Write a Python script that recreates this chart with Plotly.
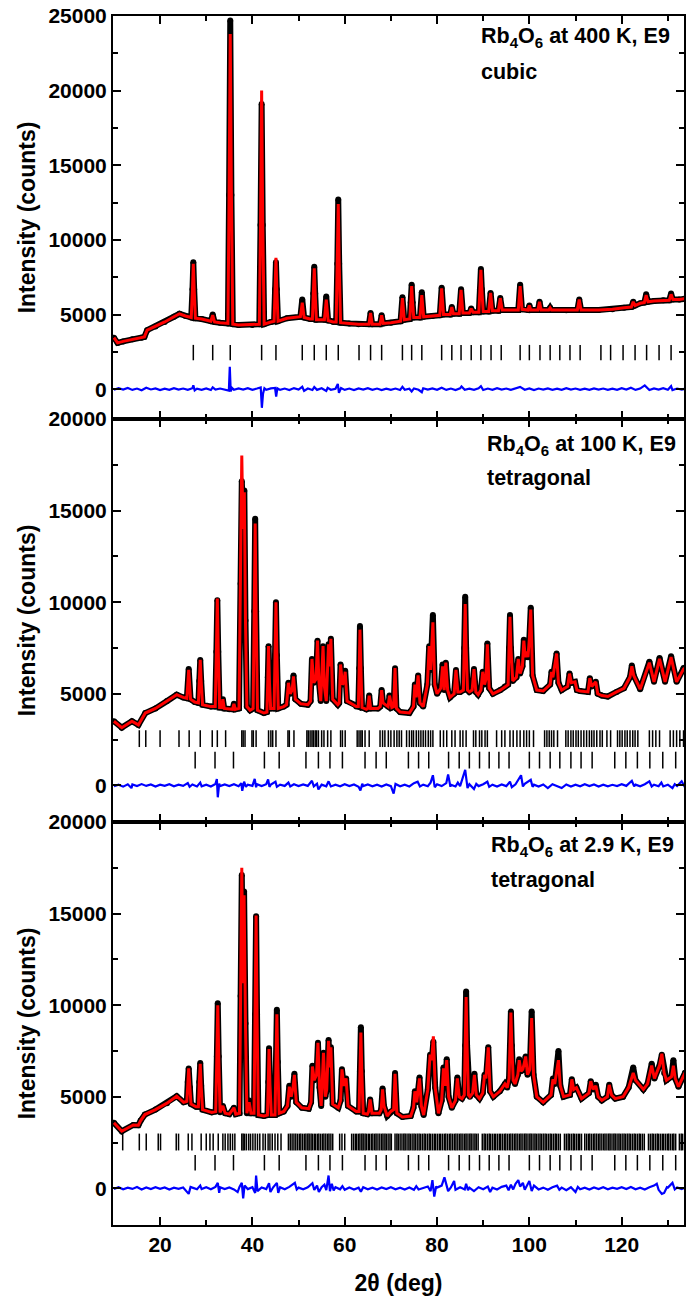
import plotly.graph_objects as go

# ---------------- data ----------------
# Panel 1: Rb4O6 at 400 K (cubic) -- (2theta, counts)
p1_calc = [
    (10.0, 3450), (10.8, 3100), (12.0, 3200), (14.0, 3350), (16.0, 3450), (16.6, 3500), (17.2, 3950),
    (19.0, 4200), (21.0, 4500), (23.0, 4850), (24.2, 5050), (25.5, 4900), (26.6, 4850),
    (26.75, 4800), (27.02, 6700), (27.2, 8400), (27.38, 6700), (27.65, 4750), (29.0, 4700),
    (31.0, 4550), (31.4, 4950), (31.8, 4500), (33.0, 4450),
    (34.7, 4400), (34.95, 13000), (35.2, 23800), (35.45, 13000), (35.75, 4350), (37.0, 4300), (40.0, 4300),
    (41.5, 4350), (41.76, 11000), (42.0, 20000), (42.24, 11000), (42.55, 4350), (44.0, 4500),
    (44.7, 4550), (44.92, 6700), (45.1, 8800), (45.28, 6700), (45.55, 4550), (47.5, 4750),
    (50.4, 4850), (50.8, 5800), (51.2, 4800), (52.5, 4700),
    (53.0, 4700), (53.2, 6400), (53.4, 8100), (53.6, 6400), (53.85, 4650),
    (55.6, 4650), (56.0, 6000), (56.4, 4600), (57.5, 4500),
    (58.15, 4500), (58.4, 8400), (58.6, 12400), (58.8, 8400), (59.1, 4450), (61.0, 4400), (63.0, 4350),
    (65.25, 4350), (65.6, 5100), (65.95, 4350), (67.65, 4350), (68.0, 4950), (68.35, 4400), (70.0, 4450),
    (72.1, 4550), (72.5, 6100), (72.9, 4650),
    (74.1, 4700), (74.3, 5800), (74.5, 6900), (74.7, 5800), (74.95, 4800),
    (76.3, 4800), (76.7, 6300), (77.1, 4850), (79.0, 4900),
    (80.6, 4950), (81.0, 6750), (81.4, 5000), (82.85, 5000), (83.2, 5500), (83.55, 5050),
    (84.8, 5050), (85.2, 6650), (85.6, 5100), (87.0, 5100), (87.4, 5400), (87.8, 5150),
    (89.05, 5150), (89.3, 6700), (89.5, 8000), (89.7, 6700), (90.0, 5200),
    (91.2, 5200), (91.6, 6450), (92.0, 5250), (93.3, 5250), (93.7, 6100), (94.1, 5300), (96.0, 5300),
    (97.6, 5300), (98.0, 6900), (98.4, 5350), (99.7, 5300), (100.0, 5600), (100.3, 5300),
    (101.85, 5300), (102.2, 5850), (102.55, 5300), (104.2, 5300), (104.5, 5450), (104.8, 5300), (108.0, 5280),
    (110.4, 5300), (110.8, 6000), (111.2, 5300), (115.0, 5300), (118.0, 5350), (120.5, 5450),
    (122.1, 5500), (122.5, 5850), (122.9, 5600), (124.0, 5750), (124.9, 5800), (125.3, 6300), (125.7, 5850),
    (127.0, 5900), (129.0, 5950), (130.3, 5950), (130.7, 6350), (131.1, 6000), (132.5, 6000), (134.5, 6100),
]
p1_obs = [
    (10.0, 3450), (10.8, 3100), (12.0, 3200), (14.0, 3350), (16.0, 3450), (16.6, 3500), (17.2, 3950),
    (19.0, 4200), (21.0, 4500), (23.0, 4850), (24.2, 5050), (25.5, 4900), (26.6, 4850),
    (26.75, 4800), (27.02, 6700), (27.2, 8500), (27.38, 6700), (27.65, 4750), (29.0, 4700),
    (31.0, 4550), (31.4, 5000), (31.8, 4500), (33.0, 4450),
    (34.7, 4400), (34.95, 13000), (35.2, 24700), (35.45, 13000), (35.75, 4350), (37.0, 4300), (40.0, 4300),
    (41.5, 4350), (41.76, 11000), (42.0, 19100), (42.24, 11000), (42.55, 4350), (44.0, 4500),
    (44.7, 4550), (44.92, 6700), (45.1, 8500), (45.28, 6700), (45.55, 4550), (47.5, 4750),
    (50.4, 4850), (50.8, 6000), (51.2, 4800), (52.5, 4700),
    (53.0, 4700), (53.2, 6400), (53.4, 8200), (53.6, 6400), (53.85, 4650),
    (55.6, 4650), (56.0, 6200), (56.4, 4600), (57.5, 4500),
    (58.15, 4500), (58.4, 8400), (58.6, 12700), (58.8, 8400), (59.1, 4450), (61.0, 4400), (63.0, 4350),
    (65.25, 4350), (65.6, 5100), (65.95, 4350), (67.65, 4350), (68.0, 4950), (68.35, 4400), (70.0, 4450),
    (72.1, 4550), (72.5, 6150), (72.9, 4650),
    (74.1, 4700), (74.3, 5800), (74.5, 7000), (74.7, 5800), (74.95, 4800),
    (76.3, 4800), (76.7, 6500), (77.1, 4850), (79.0, 4900),
    (80.6, 4950), (81.0, 6800), (81.4, 5000), (82.85, 5000), (83.2, 5500), (83.55, 5050),
    (84.8, 5050), (85.2, 6700), (85.6, 5100), (87.0, 5100), (87.4, 5400), (87.8, 5150),
    (89.05, 5150), (89.3, 6700), (89.5, 8050), (89.7, 6700), (90.0, 5200),
    (91.2, 5200), (91.6, 6450), (92.0, 5250), (93.3, 5250), (93.7, 6100), (94.1, 5300), (96.0, 5300),
    (97.6, 5300), (98.0, 7000), (98.4, 5350), (99.7, 5300), (100.0, 5600), (100.3, 5300),
    (101.85, 5300), (102.2, 5850), (102.55, 5300), (104.2, 5300), (104.5, 5450), (104.8, 5300), (108.0, 5280),
    (110.4, 5300), (110.8, 6000), (111.2, 5300), (115.0, 5300), (118.0, 5350), (120.5, 5450),
    (122.1, 5500), (122.5, 5850), (122.9, 5600), (124.0, 5750), (124.9, 5800), (125.3, 6350), (125.7, 5850),
    (127.0, 5900), (129.0, 5950), (130.3, 5950), (130.7, 6400), (131.1, 6000), (132.5, 6000), (134.5, 6100),
]
p1_diff = [
    (10, -40), (11, 60), (12, -30), (13, 80), (14, -50), (15, 40), (16, -70), (17, 90), (18, -20), (19, 50),
    (20, -60), (21, 30), (22, -40), (23, 70), (24, -30), (25, 40), (26, -50), (27, 60), (27.2, 250), (27.5, -80),
    (28, 30), (29, -40), (30, 50), (31, -60), (31.4, 120), (32, -30), (33, 40), (34, -50), (34.9, -100),
    (35.1, 1500), (35.3, -150), (35.6, 80), (36, -40), (37, 50), (38, -30), (39, 60), (40, -50), (41, 40),
    (41.8, 120), (42.05, -1250), (42.3, -300), (42.6, 60), (43, -40), (44, 50), (44.9, 80), (45.15, -500),
    (45.4, 60), (46, -50), (47, 40), (48, -60), (49, 70), (50, -30), (50.8, 160), (51.2, -120), (52, 40),
    (53, -60), (53.4, 140), (54, -50), (55, 60), (56, -120), (56.3, 90), (57, -40), (58, 30), (58.5, 350),
    (58.75, -250), (59.2, 70), (60, -50), (61, 40), (62, -60), (63, 50), (64, -30), (65, 60), (66, -50),
    (67, 40), (68, -60), (69, 30), (70, -50), (71, 40), (72, -60), (72.5, 150), (73, -40), (74, 30),
    (74.5, -150), (75, 50), (76, -40), (76.7, -200), (77, 60), (78, -30), (79, 50), (80, -40), (81, 100),
    (82, -50), (83, 40), (84, -60), (85, 50), (85.3, 180), (86, -40), (87, 30), (88, -50), (89, 60),
    (89.5, 200), (90, -60), (91, 40), (92, -50), (93, 60), (94, -30), (95, 40), (96, -50), (97, 30),
    (98, 150), (99, -40), (100, 50), (101, -60), (102, 40), (103, -30), (104, 50), (105, -40), (106, 30),
    (107, -50), (108, 60), (109, -30), (110, 40), (111, -50), (112, 30), (113, -40), (114, 50), (115, -30),
    (116, 40), (117, -50), (118, 30), (119, -40), (120, 60), (121, -30), (122, 100), (123, -50), (124, 40),
    (125, 250), (126, -60), (127, 50), (128, -30), (129, 60), (130, -40), (130.7, 200), (131, -60),
    (132, 40), (133, -30), (134, 50),
]
p1_bragg = [27.2, 31.4, 35.2, 42.0, 45.1, 50.8, 53.4, 56.0, 58.6, 63.1, 65.6, 68.0, 72.5, 74.5, 76.7,
            81.0, 83.2, 85.2, 87.4, 89.5, 91.7, 93.9, 98.0, 100.0, 102.3, 104.5, 106.6, 108.8, 111.0,
            115.5, 117.6, 120.3, 122.9, 125.4, 128.1, 130.7]

# Panel 2: Rb4O6 at 100 K (tetragonal)
p2_calc = [
    (10.0, 3500), (11.7, 3150), (13.9, 3500), (15.3, 3300), (16.8, 3950), (19.0, 4200), (21.5, 4600),
    (23.6, 4950), (25.0, 4800),
    (25.8, 4750), (26.2, 6300), (26.6, 4700), (27.5, 4550),
    (28.3, 4500), (28.5, 5700), (28.7, 6850), (28.9, 5700), (29.2, 4400), (31.0, 4300),
    (31.95, 4300), (32.2, 7300), (32.4, 10200), (32.6, 7300), (32.9, 4250),
    (33.3, 4250), (33.6, 4700), (33.9, 4200), (35.0, 4150), (35.7, 4150), (36.0, 4450), (36.3, 4150), (37.1, 4200),
    (37.45, 11000), (37.7, 18000), (37.95, 14000), (38.25, 16000), (38.5, 9000), (38.8, 4300), (39.5, 4100),
    (40.15, 4200), (40.4, 9500), (40.6, 14300), (40.8, 9500), (41.1, 4100), (42.5, 3950),
    (43.15, 4000), (43.35, 5900), (43.5, 7600), (43.7, 5600), (43.95, 4200),
    (44.7, 4200), (44.9, 7100), (45.1, 10000), (45.3, 7100), (45.6, 4200), (46.8, 4300),
    (47.4, 4400), (47.8, 5600), (48.2, 5000), (48.6, 5200), (48.9, 5950), (49.3, 4700), (50.5, 4450), (52.0, 4400),
    (52.6, 4600), (52.9, 6900), (53.3, 5600), (53.8, 5800), (54.1, 7900), (54.4, 5700), (54.8, 4600),
    (55.3, 7600), (55.6, 5400),
    (56.0, 4600), (56.5, 7700), (56.75, 6500), (57.0, 8000), (57.4, 4700), (58.5, 4400),
    (58.8, 4500), (59.1, 6600), (59.5, 5500), (59.8, 5600), (60.1, 6200), (60.5, 4600), (62.5, 4300),
    (62.95, 4300), (63.15, 6400), (63.3, 8500), (63.5, 6400), (63.75, 4250), (64.7, 4150),
    (65.0, 4200), (65.3, 4900), (65.6, 4200), (67.2, 4200), (67.7, 4300), (68.0, 5200), (68.3, 4500),
    (69.4, 4300), (69.7, 4900), (70.2, 4250), (70.6, 4300), (70.9, 6400), (71.2, 4200), (72.0, 4000), (74.0, 3950),
    (74.9, 4300), (75.2, 5500), (75.5, 4800), (75.9, 6000), (76.3, 4500), (77.0, 4300),
    (77.9, 5500), (78.3, 7600), (78.6, 6300), (79.1, 8900), (79.5, 5500), (80.0, 5000),
    (80.8, 5300), (81.2, 6500), (81.55, 5200), (81.9, 6700), (82.3, 5200), (82.8, 4800),
    (83.7, 5000), (84.1, 6300), (84.5, 5100), (85.0, 5100),
    (85.7, 5200), (85.9, 7500), (86.1, 9900), (86.3, 7500), (86.6, 5200), (87.0, 5100),
    (87.6, 5200), (88.0, 6350), (88.4, 5100), (88.9, 4950), (89.5, 5200), (89.9, 6200), (90.3, 5500),
    (90.6, 5800), (90.9, 7700), (91.3, 5300),
    (92.1, 5000), (93.7, 5200), (94.7, 5400),
    (95.4, 5500), (95.6, 7500), (95.8, 9200), (96.0, 7500), (96.4, 5700),
    (97.2, 5900), (97.6, 6900), (98.0, 6100), (98.5, 6500), (98.8, 7900), (99.1, 7000), (99.4, 7300), (99.7, 7000),
    (100.0, 8000), (100.3, 9600), (100.7, 6000), (101.6, 5200), (103.0, 5150),
    (104.5, 5500), (104.8, 6200), (105.1, 5900), (105.9, 7200), (106.3, 5600), (107.0, 5200),
    (108.3, 5400), (108.7, 6100), (109.1, 5600), (109.9, 5650), (110.3, 5200), (111.0, 5150),
    (112.7, 5100), (113.1, 5850), (113.5, 5400), (114.4, 5650), (114.8, 5000), (115.7, 4900), (117.0, 4850),
    (118.9, 5100), (120.5, 5300),
    (121.8, 5900), (122.2, 6500), (122.6, 6000), (124.0, 5250), (126.0, 6700), (127.0, 5650), (128.2, 6900),
    (129.4, 5650), (130.7, 7000), (131.9, 5650), (133.4, 6350), (134.5, 6500),
]
p2_obs = [
    (10.0, 3500), (11.7, 3150), (13.9, 3500), (15.3, 3300), (16.8, 3950), (19.0, 4200), (21.5, 4600),
    (23.6, 4950), (25.0, 4800),
    (25.8, 4750), (26.2, 6350), (26.6, 4700), (27.5, 4550),
    (28.3, 4500), (28.5, 5700), (28.7, 6850), (28.9, 5700), (29.2, 4400), (31.0, 4300),
    (31.95, 4300), (32.2, 7300), (32.4, 10100), (32.6, 7300), (32.9, 4250),
    (33.3, 4250), (33.6, 4700), (33.9, 4200), (35.0, 4150), (35.7, 4150), (36.0, 4450), (36.3, 4150), (37.1, 4200),
    (37.45, 11000), (37.7, 16600), (37.95, 15000), (38.25, 16100), (38.5, 9000), (38.8, 4300), (39.5, 4100),
    (40.15, 4200), (40.4, 9500), (40.6, 14550), (40.8, 9500), (41.1, 4100), (42.5, 3950),
    (43.15, 4000), (43.35, 5900), (43.5, 7600), (43.7, 5600), (43.95, 4200),
    (44.7, 4200), (44.9, 7100), (45.1, 10000), (45.3, 7100), (45.6, 4200), (46.8, 4300),
    (47.4, 4400), (47.8, 5600), (48.2, 5000), (48.6, 5200), (48.9, 6000), (49.3, 4700), (50.5, 4450), (52.0, 4400),
    (52.6, 4600), (52.9, 6900), (53.3, 5600), (53.8, 5800), (54.1, 7900), (54.4, 5700), (54.8, 4600),
    (55.3, 7600), (55.6, 5400),
    (56.0, 4600), (56.5, 7700), (56.75, 6500), (57.0, 8000), (57.4, 4700), (58.5, 4400),
    (58.8, 4500), (59.1, 6600), (59.5, 5500), (59.8, 5600), (60.1, 6250), (60.5, 4600), (62.5, 4300),
    (62.95, 4300), (63.15, 6400), (63.3, 8700), (63.5, 6400), (63.75, 4250), (64.7, 4150),
    (65.0, 4200), (65.3, 4900), (65.6, 4200), (67.2, 4200), (67.7, 4300), (68.0, 5200), (68.3, 4500),
    (69.4, 4300), (69.7, 4900), (70.2, 4250), (70.6, 4300), (70.9, 6400), (71.2, 4200), (72.0, 4000), (74.0, 3950),
    (74.9, 4300), (75.2, 5500), (75.5, 4800), (75.9, 6000), (76.3, 4500), (77.0, 4300),
    (77.9, 5500), (78.3, 7600), (78.6, 6300), (79.1, 9300), (79.5, 5500), (80.0, 5000),
    (80.8, 5300), (81.2, 6600), (81.55, 5200), (81.9, 6700), (82.3, 5200), (82.8, 4800),
    (83.7, 5000), (84.1, 6300), (84.5, 5100), (85.0, 5100),
    (85.7, 5200), (85.9, 7500), (86.1, 10300), (86.3, 7500), (86.6, 5200), (87.0, 5100),
    (87.6, 5200), (88.0, 6350), (88.4, 5100), (88.9, 4950), (89.5, 5200), (89.9, 6200), (90.3, 5500),
    (90.6, 5800), (90.9, 7750), (91.3, 5300),
    (92.1, 5000), (93.7, 5200), (94.7, 5400),
    (95.4, 5500), (95.6, 7500), (95.8, 9300), (96.0, 7500), (96.4, 5700),
    (97.2, 5900), (97.6, 6900), (98.0, 6100), (98.5, 6500), (98.8, 7950), (99.1, 7000), (99.4, 7400), (99.7, 7000),
    (100.0, 8000), (100.3, 9700), (100.7, 6000), (101.6, 5200), (103.0, 5150),
    (104.5, 5500), (104.8, 6200), (105.1, 5900), (105.9, 7200), (106.3, 5600), (107.0, 5200),
    (108.3, 5400), (108.7, 6100), (109.1, 5600), (109.9, 5650), (110.3, 5200), (111.0, 5150),
    (112.7, 5100), (113.1, 5850), (113.5, 5400), (114.4, 5650), (114.8, 5000), (115.7, 4900), (117.0, 4850),
    (118.9, 5100), (120.5, 5300),
    (121.8, 5900), (122.2, 6550), (122.6, 6000), (124.0, 5250), (126.0, 6750), (127.0, 5650), (128.2, 6950),
    (129.4, 5650), (130.7, 7050), (131.9, 5650), (133.4, 6400), (134.5, 6500),
]
p2_diff = [
    (10, -50), (11, 40), (12, -70), (13, 60), (13.8, -150), (14, 50), (15, -40), (16, 70), (17, -30), (18, 50),
    (19, -60), (20, 40), (21, -30), (22, 60), (23, -50), (24, 40), (25, -30), (26, 120), (26.4, -80), (27, 50),
    (28, -60), (28.7, 150), (29, -50), (30, 40), (31, -60), (32, 80), (32.3, 350), (32.5, -650), (32.8, 100),
    (33, -40), (34, 50), (35, -40), (36, 60), (37, -50), (37.6, 120), (37.8, -300), (38.2, 200), (38.6, -80),
    (39, 40), (40, -30), (40.5, 350), (40.8, -100), (41, 60), (42, -40), (43, 60), (43.4, 320), (43.7, -80),
    (44, 50), (45, 200), (45.3, -80), (46, 40), (47, -30), (47.8, 150), (48.2, -60), (49, 60), (50, -40),
    (51, 50), (52, -30), (52.9, 250), (53.3, -60), (54, 90), (54.3, -220), (55, 40), (56, -50), (56.5, 220),
    (57, -60), (58, 40), (59, -50), (60, 60), (61, -40), (62, 50), (63, -80), (63.4, -280), (63.8, 90),
    (64, -40), (65, 50), (66, -50), (67, 40), (68, -60), (69, 50), (70, -40), (70.6, -450), (71, 80),
    (72, -50), (73, 40), (74, -60), (75, 120), (75.8, 200), (76.3, -60), (77, 40), (78, -50), (78.6, 150),
    (79.1, 550), (79.5, -100), (80, 60), (81, -40), (82, 120), (82.4, 600), (82.9, -80), (83, 40), (84, -60),
    (84.5, 150), (85, -40), (86.1, 850), (86.6, -150), (87, 60), (88, -200), (88.5, 80), (89, -40), (90, 60),
    (90.9, 200), (91.3, -80), (92, 40), (93, -60), (94, 50), (95, -40), (95.8, 200), (96.2, -100), (97, 60),
    (98.2, 550), (98.6, -60), (99, 80), (100.3, 300), (100.7, -80), (101, 40), (102, -60), (103, 50),
    (104, -150), (105, 60), (106, -40), (107, -150), (108, 50), (109, -60), (110, 40), (111, -50), (112, 60),
    (113, -40), (114, 50), (115, -60), (116, 40), (117, -50), (118, 30), (119, -40), (120, 60), (121, -30),
    (122.2, 250), (122.7, -60), (123, 40), (124, -50), (125, 60), (126, 220), (126.5, -60), (127, 40),
    (128, -50), (128.6, 150), (129, -60), (130, 40), (131, -150), (131.5, 60), (132, -40), (133, 220),
    (133.6, -50), (134.5, 60),
]
p2_bragg = [15.5, 16.9, 20.0, 24.1, 26.3, 28.7, 31.3, 32.4, 34.2, 37.7, 38.0, 38.4, 39.9, 40.2, 40.8,
            43.5, 44.0, 44.4, 45.1, 47.7, 48.0, 49.0, 51.8, 52.1, 52.5, 52.9, 53.2, 53.6, 53.9, 54.3,
            55.0, 55.5, 56.3, 57.0, 59.1, 59.5, 60.1, 62.7, 63.1, 63.5, 63.8, 64.4, 65.3,
            67.65, 68.2, 68.7, 69.45, 70.0, 70.7, 71.3, 71.8, 72.3,
            73.4, 74.0, 74.5, 74.9, 75.5, 76.0, 76.5, 77.0, 77.5, 78.1, 78.6, 79.1,
            80.7, 81.4, 82.1, 83.2, 83.9, 85.0, 85.6, 86.3,
            87.9, 88.4, 89.2, 89.7, 90.4, 90.9,
            92.9, 94.0, 94.7, 95.8, 96.5, 97.3, 98.0, 98.8, 99.4, 100.0, 100.9,
            103.3, 103.8, 104.3, 104.8, 105.3, 106.1,
            107.9, 108.4, 109.0, 109.5, 110.1, 110.6, 111.2, 111.8, 112.4, 113.0, 113.5, 114.0, 114.6,
            115.3, 115.8, 116.8, 117.6,
            119.1, 119.6, 120.1, 120.7, 121.2, 121.8, 122.4, 122.9, 123.5,
            126.0, 126.7, 127.4, 128.2,
            130.5, 131.2, 131.9, 132.6, 133.4]
second_phase_bragg = [27.6, 31.9, 35.9, 42.6, 45.8, 51.6, 54.3, 56.8, 59.5, 64.4, 66.8, 69.0, 73.8, 76.0,
                      78.2, 82.5, 84.8, 87.0, 89.2, 91.3, 93.4, 95.6, 100.0, 102.2, 104.5, 106.6, 109.0,
                      111.2, 113.6, 118.5, 120.9, 123.4, 126.1, 128.9, 131.7]

# Panel 3: Rb4O6 at 2.9 K (tetragonal)
p3_calc = [
    (10.0, 3580), (11.7, 3120), (14.2, 3460), (15.3, 3450), (15.8, 3700), (16.7, 4030), (19.0, 4300),
    (21.5, 4650), (23.6, 5030), (25.1, 4700),
    (25.8, 4750), (26.0, 5800), (26.2, 6550), (26.45, 5500), (26.7, 4600), (27.8, 4450),
    (28.3, 4450), (28.5, 5800), (28.7, 6800), (28.9, 5600), (29.2, 4300), (31.2, 4150),
    (32.05, 4200), (32.3, 7200), (32.5, 10000), (32.7, 7200), (33.0, 4150),
    (33.6, 4500), (34.1, 4100), (35.0, 4050), (36.0, 4400), (36.4, 4050), (37.2, 4100),
    (37.45, 10500), (37.7, 17500), (37.95, 11200), (38.2, 16000), (38.5, 9000), (38.8, 4100), (39.3, 4700), (39.7, 4100),
    (40.35, 4100), (40.6, 9500), (40.8, 14900), (41.0, 9500), (41.3, 4000), (42.5, 3950),
    (43.25, 4000), (43.45, 5800), (43.6, 7600), (43.8, 5700), (44.1, 4000),
    (44.9, 4000), (45.1, 6900), (45.3, 9500), (45.5, 6900), (45.8, 4100), (46.8, 4200),
    (47.6, 4500), (48.0, 5550), (48.4, 5000), (48.8, 5500), (49.1, 6200), (49.5, 4700), (50.7, 4400), (52.2, 4350),
    (52.7, 4700), (53.0, 6650), (53.4, 5900), (53.9, 6200), (54.2, 7950), (54.55, 5500), (54.9, 4500),
    (55.4, 7400), (55.8, 5000),
    (56.1, 5400), (56.5, 8050), (56.75, 6600), (57.0, 7700), (57.4, 4600), (58.6, 4400),
    (59.1, 4800), (59.4, 6500), (59.8, 5600), (60.3, 6000), (60.7, 4500), (62.5, 4200),
    (63.1, 4200), (63.3, 6400), (63.5, 8500), (63.7, 6400), (64.0, 4100), (64.9, 4050),
    (65.2, 4200), (65.5, 4850), (65.9, 4100), (67.5, 4100), (67.9, 4300), (68.2, 5400), (68.5, 4500),
    (69.2, 3950), (70.0, 4200),
    (70.6, 4300), (70.9, 6250), (71.3, 4100), (72.5, 3900), (74.3, 3950),
    (74.9, 4400), (75.2, 5300), (75.6, 4700), (76.2, 6000), (76.6, 4500), (77.1, 4000),
    (78.0, 5400), (78.5, 7300), (78.85, 7000), (79.2, 8300), (79.6, 5500), (80.3, 4100),
    (81.0, 4800), (81.4, 6550), (81.75, 5600), (82.1, 7000), (82.5, 5000), (83.2, 4400),
    (84.0, 4800), (84.4, 6000), (84.8, 5000), (85.4, 4900),
    (85.9, 5100), (86.1, 7800), (86.3, 10450), (86.5, 7800), (86.8, 5100), (87.1, 5000),
    (87.7, 5200), (88.1, 6200), (88.5, 5100), (89.2, 4900), (89.9, 5200), (90.3, 6200), (90.6, 6000),
    (91.1, 7700), (91.5, 5300),
    (92.2, 5000), (93.6, 5300), (94.7, 5700), (95.2, 5500),
    (95.6, 6000), (95.8, 7800), (96.0, 9600), (96.2, 7800), (96.5, 5900), (96.9, 5700),
    (97.5, 6200), (97.8, 7000), (98.2, 6400), (98.6, 6500), (99.2, 7200), (99.6, 6200),
    (100.1, 6500), (100.5, 9300), (100.9, 6200), (101.6, 5000), (103.0, 4700),
    (104.7, 5100), (105.1, 5950), (105.5, 5700), (106.3, 7000), (106.7, 5600), (107.4, 5000),
    (108.8, 5100), (109.2, 5950), (109.6, 5400), (110.2, 5500), (111.3, 4900),
    (112.9, 5200), (113.3, 5850), (113.8, 5400), (114.4, 5600), (114.9, 5000), (115.7, 4800),
    (116.9, 5000), (117.3, 5650), (117.8, 5100), (118.6, 4900), (120.3, 5000), (121.5, 5500),
    (122.5, 6300), (123.0, 5900), (124.7, 5400), (125.6, 5700), (126.5, 6700), (127.1, 6000),
    (128.2, 6700), (128.7, 7350), (129.2, 6300), (129.7, 5900), (130.8, 6100), (131.2, 6700), (131.6, 6000),
    (132.3, 5550), (133.7, 6300), (134.5, 6350),
]
p3_obs = [
    (10.0, 3580), (11.7, 3120), (14.2, 3460), (15.3, 3450), (15.8, 3700), (16.7, 4030), (19.0, 4300),
    (21.5, 4650), (23.6, 5030), (25.1, 4700),
    (25.8, 4750), (26.0, 5800), (26.2, 6550), (26.45, 5500), (26.7, 4600), (27.8, 4450),
    (28.3, 4450), (28.5, 5800), (28.7, 6850), (28.9, 5600), (29.2, 4300), (31.2, 4150),
    (32.05, 4200), (32.3, 7200), (32.5, 10100), (32.7, 7200), (33.0, 4150),
    (33.6, 4500), (34.1, 4100), (35.0, 4050), (36.0, 4400), (36.4, 4050), (37.2, 4100),
    (37.45, 10500), (37.7, 17100), (37.95, 11200), (38.2, 16200), (38.5, 9000), (38.8, 4100), (39.3, 4800), (39.7, 4100),
    (40.35, 4100), (40.6, 9500), (40.8, 14850), (41.0, 9500), (41.3, 4000), (42.5, 3950),
    (43.25, 4000), (43.45, 5800), (43.6, 7650), (43.8, 5700), (44.1, 4000),
    (44.9, 4000), (45.1, 6900), (45.3, 9750), (45.5, 6900), (45.8, 4100), (46.8, 4200),
    (47.6, 4500), (48.0, 5600), (48.4, 5000), (48.8, 5500), (49.1, 6250), (49.5, 4700), (50.7, 4400), (52.2, 4350),
    (52.7, 4700), (53.0, 6700), (53.4, 5900), (53.9, 6200), (54.2, 7950), (54.55, 5500), (54.9, 4500),
    (55.4, 7400), (55.8, 5000),
    (56.1, 5400), (56.5, 8100), (56.75, 6600), (57.0, 7700), (57.4, 4600), (58.6, 4400),
    (59.1, 4800), (59.4, 6500), (59.8, 5600), (60.3, 6000), (60.7, 4500), (62.5, 4200),
    (63.1, 4200), (63.3, 6400), (63.5, 8800), (63.7, 6400), (64.0, 4100), (64.9, 4050),
    (65.2, 4200), (65.5, 4850), (65.9, 4100), (67.5, 4100), (67.9, 4300), (68.2, 5450), (68.5, 4500),
    (69.2, 3950), (70.0, 4200),
    (70.6, 4300), (70.9, 6300), (71.3, 4100), (72.5, 3900), (74.3, 3950),
    (74.9, 4400), (75.2, 5300), (75.6, 4700), (76.2, 6050), (76.6, 4500), (77.1, 4000),
    (78.0, 5400), (78.5, 7300), (78.85, 7000), (79.2, 8000), (79.6, 5500), (80.3, 4100),
    (81.0, 4800), (81.4, 6600), (81.75, 5600), (82.1, 7050), (82.5, 5000), (83.2, 4400),
    (84.0, 4800), (84.4, 6050), (84.8, 5000), (85.4, 4900),
    (85.9, 5100), (86.1, 7800), (86.3, 10750), (86.5, 7800), (86.8, 5100), (87.1, 5000),
    (87.7, 5200), (88.1, 6250), (88.5, 5100), (89.2, 4900), (89.9, 5200), (90.3, 6200), (90.6, 6000),
    (91.1, 7700), (91.5, 5300),
    (92.2, 5000), (93.6, 5300), (94.7, 5700), (95.2, 5500),
    (95.6, 6000), (95.8, 7800), (96.0, 9650), (96.2, 7800), (96.5, 5900), (96.9, 5700),
    (97.5, 6200), (97.8, 7050), (98.2, 6400), (98.6, 6500), (99.2, 7200), (99.6, 6200),
    (100.1, 6500), (100.5, 9650), (100.9, 6200), (101.6, 5000), (103.0, 4700),
    (104.7, 5100), (105.1, 6000), (105.5, 5700), (106.3, 7500), (106.7, 5600), (107.4, 5000),
    (108.8, 5100), (109.2, 5950), (109.6, 5400), (110.2, 5500), (111.3, 4900),
    (112.9, 5200), (113.3, 5850), (113.8, 5400), (114.4, 5650), (114.9, 5000), (115.7, 4800),
    (116.9, 5000), (117.3, 5650), (117.8, 5100), (118.6, 4900), (120.3, 5000), (121.5, 5500),
    (122.5, 6600), (123.0, 5900), (124.7, 5400), (125.6, 5700), (126.5, 6800), (127.1, 6000),
    (128.2, 6700), (128.7, 7300), (129.2, 6300), (129.7, 5900), (130.8, 6100), (131.2, 7000), (131.6, 6000),
    (132.3, 5550), (133.7, 6300), (134.5, 6350),
]
p3_diff = [
    (10, -40), (11, 60), (12, -50), (13, 40), (14, -30), (15, 70), (16, -60), (17, 50), (18, -40), (19, 60),
    (20, -30), (21, 50), (22, -60), (23, 40), (24, -30), (25, 50), (26.2, -300), (26.6, 80), (27, 40),
    (28, -50), (28.7, 150), (29, -40), (30, 60), (31, -50), (32, 80), (32.5, 300), (32.8, -250), (33, 60),
    (34, -40), (35, 50), (36, -60), (36.8, -200), (37.2, 80), (37.7, 300), (38.0, -550), (38.3, 150),
    (39, -40), (40, 60), (40.6, -250), (40.8, 700), (41.1, -150), (42, 50), (43, -40), (43.6, 280),
    (43.9, -200), (44.5, 60), (45.3, 300), (45.6, -250), (46, 60), (47, -50), (48, 80), (49.2, 300),
    (49.6, -60), (50, 40), (51, -50), (52, 60), (53, 280), (53.4, -80), (54, 150), (54.4, -200), (55, 60),
    (55.6, 200), (56, -100), (56.5, 700), (56.8, -150), (57.2, 250), (57.6, -120), (58, 60), (59, -50),
    (59.5, 120), (60, -80), (61, 50), (62, -60), (63, 40), (63.5, -180), (64, 60), (65, -50), (66, 40),
    (67, -60), (68, 50), (69, -40), (70, 60), (71, -50), (72, 40), (73, -60), (74, 50), (75, -80),
    (75.5, 120), (76, -60), (77, 40), (78, 100), (78.6, -150), (79, 450), (79.4, -450), (79.8, 100),
    (80, 40), (81, 150), (81.6, 600), (82, 250), (82.4, -150), (83, 50), (83.7, 400), (84, -80), (85, 60),
    (86, -60), (86.3, 250), (86.7, -100), (87, 40), (88, -150), (89, 60), (90, -50), (91, 100), (91.5, -200),
    (92, 40), (93, -60), (94, 80), (95, 150), (95.5, -100), (96, 200), (96.5, -60), (97, 250), (97.6, 450),
    (98, 100), (98.6, 300), (99, -80), (99.5, 200), (100, 400), (100.5, -150), (101, 150), (102, -60),
    (103, 40), (104, -80), (105, 60), (106, 150), (106.5, -80), (107, 40), (108, -100), (109, 60),
    (110, -200), (110.5, 80), (111, -50), (112, 40), (113, -60), (114, 50), (115, -40), (116, 60),
    (117, -50), (118, 40), (119, -30), (120, 60), (121, -40), (122, 80), (123, -50), (124, 40), (125, -60),
    (126, 60), (127, 150), (127.6, 250), (128, -80), (128.7, -300), (129.2, -250), (129.8, 60), (130, 40),
    (131, 300), (131.5, -60), (132, 50), (133, -40), (134, 60),
]
p3_bragg = [11.9, 15.5, 17.0, 19.6, 20.1, 23.5, 24.0, 26.1, 26.9, 28.9, 30.0, 30.8, 31.5, 32.6, 33.6,
            34.1, 34.7, 35.2, 35.7, 36.2,
            37.7, 38.0, 38.3, 38.7, 39.2, 39.6, 40.1, 40.6, 41.1, 41.6, 42.3, 42.8, 43.4, 43.8, 44.3,
            44.9, 45.5, 46.2,
            47.8, 48.2, 48.6, 49.0, 49.4, 49.8, 50.2, 50.5, 50.9, 51.3, 51.6, 52.0, 52.3, 52.7, 53.0,
            53.4, 53.7, 54.1, 54.4, 54.8, 55.2, 55.5, 55.9, 56.3, 56.6, 57.0, 57.4,
            58.9, 59.4, 60.0,
            61.5, 61.9, 62.3, 62.6, 63.0, 63.3, 63.7, 64.0, 64.4, 64.7, 65.1, 65.4, 65.8, 66.1, 66.5,
            66.8, 67.2, 67.6, 68.0, 68.3, 68.7, 69.0, 69.4, 69.8, 70.1,
            70.9, 71.3, 71.6, 72.0, 72.4, 72.8, 73.1, 73.5, 73.9, 74.2, 74.6, 75.0, 75.3, 75.7, 76.1,
            76.4, 76.8, 77.2, 77.5, 77.9, 78.3, 78.6, 79.0, 79.4, 79.7, 80.1, 80.5, 80.8, 81.2, 81.6,
            81.9, 82.3, 82.7, 83.0, 83.4, 83.8, 84.1, 84.5, 84.9, 85.2, 85.6, 86.0, 86.3, 86.7, 87.1,
            87.4, 87.8, 88.2, 88.5, 88.9,
            89.8, 90.2, 90.5, 90.9, 91.3, 91.6, 92.0, 92.4, 92.7, 93.1, 93.5, 93.8, 94.2, 94.6, 94.9,
            95.3, 95.7, 96.0, 96.4, 96.8, 97.1, 97.5, 97.9, 98.2, 98.6, 99.0, 99.3, 99.7, 100.1, 100.4,
            100.8, 101.2, 101.5, 101.9, 102.3, 102.6, 103.0, 103.4, 103.7, 104.1, 104.5, 104.8, 105.2,
            105.6, 105.9, 106.3, 106.7,
            107.6, 108.0, 108.4, 108.7, 109.1, 109.5, 109.8, 110.2, 110.6, 110.9, 111.3,
            112.0, 112.4, 112.8, 113.1, 113.5, 113.9, 114.2, 114.6, 115.0, 115.3, 115.7, 116.1, 116.4,
            116.8, 117.2, 117.5, 117.9, 118.3, 118.6, 119.0, 119.4, 119.7, 120.1, 120.5, 120.8, 121.2,
            121.6, 121.9, 122.3, 122.7, 123.0, 123.4, 123.8, 124.1, 124.5, 124.9,
            125.8, 126.2, 126.6, 126.9, 127.3, 127.7, 128.0, 128.4, 128.8, 129.1, 129.5, 129.9, 130.2,
            130.6, 131.0, 131.3, 131.7,
            132.5, 132.9, 133.2]

panel_labels = [
    ("Rb<sub>4</sub>O<sub>6</sub> at 400 K, E9", "cubic"),
    ("Rb<sub>4</sub>O<sub>6</sub> at 100 K, E9", "tetragonal"),
    ("Rb<sub>4</sub>O<sub>6</sub> at 2.9 K, E9", "tetragonal"),
]
y_ticks_p1 = [0, 5000, 10000, 15000, 20000, 25000]
y_ticks_p23 = [0, 5000, 10000, 15000, 20000]
x_ticks = [20, 40, 60, 80, 100, 120]

# ---------------- figure ----------------
FONT = "Arial, 'Liberation Sans', sans-serif"


def split(pts):
    return [p[0] for p in pts], [p[1] for p in pts]


fig = go.Figure()

panels = [
    (p1_obs, p1_calc, p1_diff, [(p1_bragg, 2450, 11)], "x3", "y3"),
    (p2_obs, p2_calc, p2_diff, [(p2_bragg, 2550, 12), (second_phase_bragg, 1380, 12)], "x2", "y2"),
    (p3_obs, p3_calc, p3_diff, [(p3_bragg, 2530, 12), (second_phase_bragg, 1400, 11)], "x", "y"),
]

for obs, calc, diff, braggs, xa, ya in panels:
    ox, oy = split(obs)
    cx, cy = split(calc)
    dx, dy = split(diff)
    fig.add_trace(go.Scatter(x=ox, y=oy, mode="lines+markers",
                             line=dict(color="black", width=6),
                             marker=dict(color="black", size=6),
                             xaxis=xa, yaxis=ya, showlegend=False, hoverinfo="skip"))
    fig.add_trace(go.Scatter(x=cx, y=cy, mode="lines",
                             line=dict(color="#ff0000", width=3),
                             xaxis=xa, yaxis=ya, showlegend=False, hoverinfo="skip"))
    fig.add_trace(go.Scatter(x=dx, y=dy, mode="lines",
                             line=dict(color="#0000ff", width=2.2),
                             xaxis=xa, yaxis=ya, showlegend=False, hoverinfo="skip"))
    for vals, level, sz in braggs:
        fig.add_trace(go.Scatter(x=vals, y=[level] * len(vals), mode="markers",
                                 marker=dict(symbol="line-ns", size=sz, color="black",
                                             line=dict(width=1.5, color="black")),
                                 xaxis=xa, yaxis=ya, showlegend=False, hoverinfo="skip"))

tickfont = dict(family=FONT, size=21, color="black", weight="bold")
titlefont = dict(family=FONT, size=23, color="black", weight="bold")
common = dict(showline=True, linecolor="black", linewidth=2, mirror="ticks",
              ticks="inside", ticklen=8, tickwidth=2, tickcolor="black",
              showgrid=False, zeroline=False, tickfont=tickfont,
              minor=dict(ticks="inside", ticklen=5, tickwidth=2, tickcolor="black", showgrid=False))

xr = [9.8, 133.5]
minor_x = dict(common["minor"], dtick=10, tick0=0)
minor_y = dict(common["minor"], dtick=2500, tick0=0)
fig.update_layout(
    xaxis=dict(common, domain=[0, 1], range=xr, anchor="y", tickvals=x_ticks,
               ticktext=[str(v) for v in x_ticks], minor=minor_x,
               title=dict(text="2θ (deg)", font=titlefont, standoff=20)),
    xaxis2=dict(common, domain=[0, 1], range=xr, anchor="y2", tickvals=x_ticks, showticklabels=False,
                minor=minor_x),
    xaxis3=dict(common, domain=[0, 1], range=xr, anchor="y3", tickvals=x_ticks, showticklabels=False,
                minor=minor_x),
    yaxis=dict(common, domain=[0, 1 / 3], range=[-2000, 20000], anchor="x", tickvals=y_ticks_p23,
               ticktext=[str(v) for v in y_ticks_p23], minor=minor_y,
               title=dict(text="Intensity (counts)", font=titlefont, standoff=6)),
    yaxis2=dict(common, domain=[1 / 3, 2 / 3], range=[-2000, 20000], anchor="x2", tickvals=y_ticks_p23,
                ticktext=[str(v) for v in y_ticks_p23], minor=minor_y,
                title=dict(text="Intensity (counts)", font=titlefont, standoff=6)),
    yaxis3=dict(common, domain=[2 / 3, 1], range=[-2000, 25000], anchor="x3", tickvals=y_ticks_p1,
                ticktext=[str(v) for v in y_ticks_p1], minor=minor_y,
                title=dict(text="Intensity (counts)", font=titlefont, standoff=6)),
    width=686, height=1302,
    margin=dict(l=113, r=2, t=16, b=77),
    paper_bgcolor="white", plot_bgcolor="white",
    template="none", showlegend=False,
)

# panel text labels (pixel positions converted to paper coords)
L, W, T, H = 113, 571, 16, 1209
label_pos = [(479, 38, 72), (485, 445, 478), (489, 847, 880)]
annfont = dict(family=FONT, size=21.5, color="black", weight="bold")
for (line1, line2), (px, py1, py2) in zip(panel_labels, label_pos):
    for txt, py in ((line1, py1), (line2, py2)):
        fig.add_annotation(text=txt, xref="paper", yref="paper",
                           x=(px - L) / W, y=(T + H - py) / H,
                           xanchor="left", yanchor="middle", showarrow=False, font=annfont)

fig.write_html("out.html")
